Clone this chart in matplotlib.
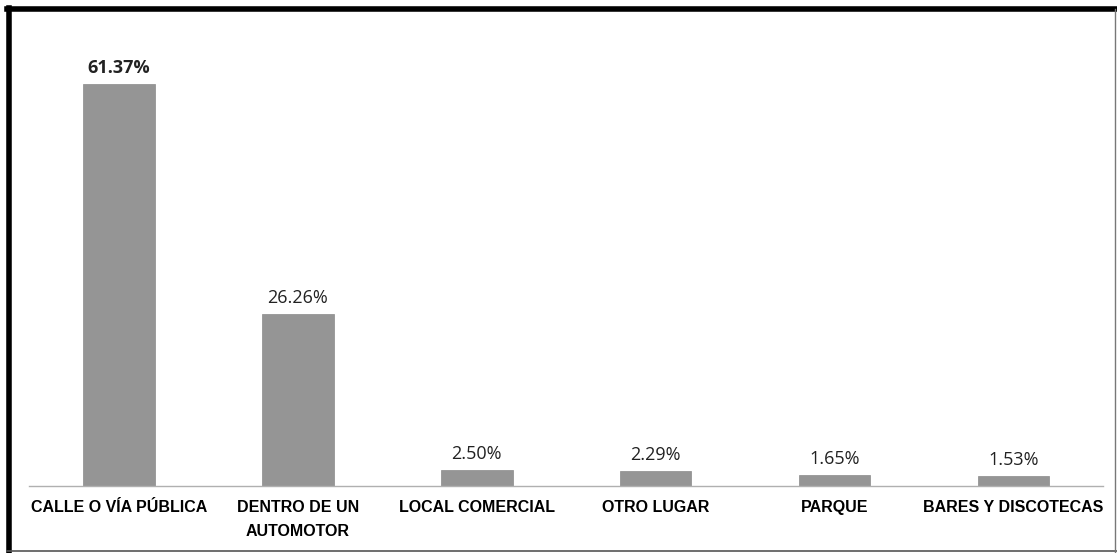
import matplotlib.pyplot as plt
from matplotlib.lines import Line2D

lugares = ["CALLE O VÍA PÚBLICA", "DENTRO DE UN\nAUTOMOTOR", "LOCAL COMERCIAL",
           "OTRO LUGAR", "PARQUE", "BARES Y DISCOTECAS"]
porcentajes = [61.37, 26.26, 2.50, 2.29, 1.65, 1.53]
etiquetas = ["61.37%", "26.26%", "2.50%", "2.29%", "1.65%", "1.53%"]

plt.rcParams['font.family'] = ['Liberation Sans', 'DejaVu Sans']

fig = plt.figure(figsize=(11.17, 5.53), dpi=100)
ax = fig.add_axes([0.0264, 0.121, 0.961, 0.829])

x = range(len(lugares))
ax.bar(x, porcentajes, width=0.40, color="#959595", edgecolor="#8a8a8a", linewidth=0.5)

for i, (v, t) in enumerate(zip(porcentajes, etiquetas)):
    ax.annotate(t, (i, v), xytext=(0, 5), textcoords="offset points",
                ha="center", va="bottom", fontsize=13,
                family=["Open Sans", "DejaVu Sans"],
                fontweight="bold" if i == 0 else "normal", color="#222222")

ax.set_xlim(-0.5, 5.5)
ax.set_ylim(0, 70)
ax.set_xticks(list(x))
ax.set_xticklabels(lugares, fontsize=11.5, fontweight="bold", linespacing=1.75)
ax.tick_params(axis="x", length=0, pad=10)
ax.set_yticks([])
for s in ["top", "right", "left"]:
    ax.spines[s].set_visible(False)
ax.spines["bottom"].set_color("#b0b0b0")
ax.spines["bottom"].set_linewidth(1)

# marco de la imagen
fig.add_artist(Line2D([0.006, 1.0], [0.984, 0.984], color="black", lw=4, transform=fig.transFigure))
fig.add_artist(Line2D([0.0085, 0.0085], [0.0, 0.986], color="black", lw=4, transform=fig.transFigure))
fig.add_artist(Line2D([0.006, 1.0], [0.004, 0.004], color="#555555", lw=1.2, transform=fig.transFigure))
fig.add_artist(Line2D([0.998, 0.998], [0.0, 0.984], color="#777777", lw=1, transform=fig.transFigure))

fig.savefig("out.png", dpi=100)
